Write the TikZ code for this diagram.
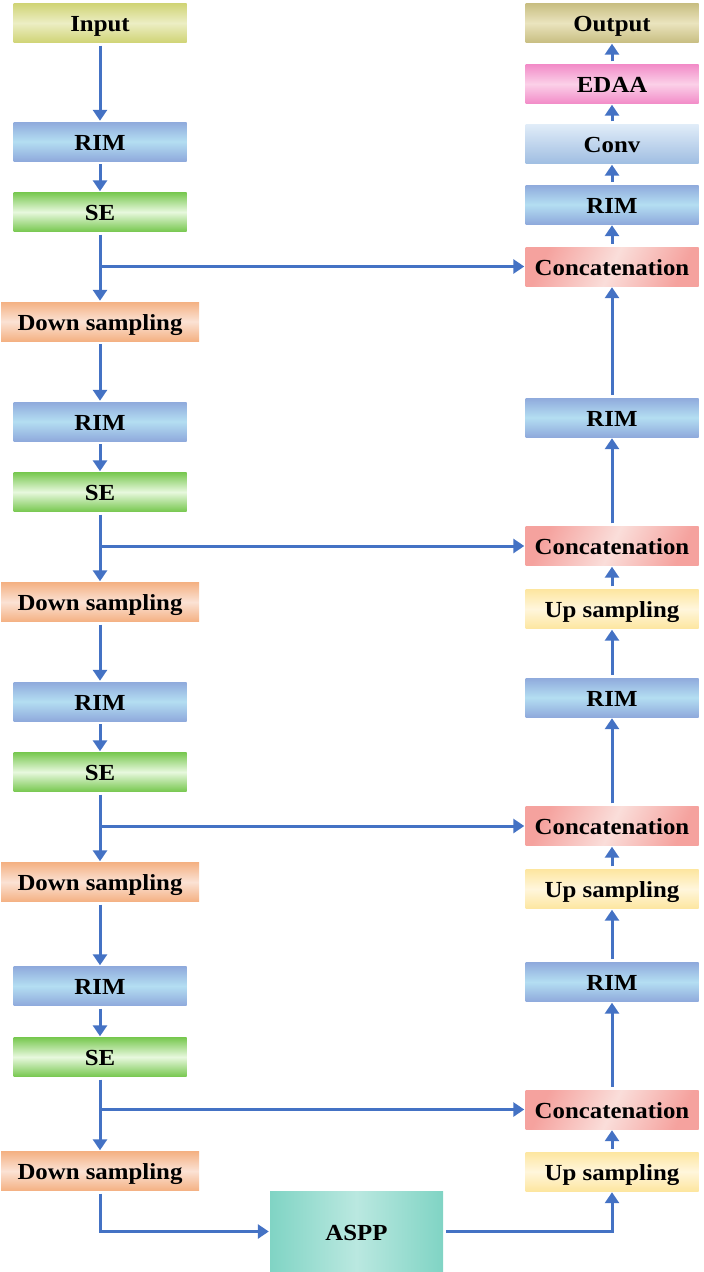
\documentclass[tikz,border=0pt]{standalone}
\usepackage{fontspec}
\setmainfont{Liberation Serif}[FakeStretch=1.08]
\usepackage{tikz}
\usetikzlibrary{arrows.meta}

\definecolor{linkblue}{RGB}{68,114,196}
\definecolor{inA}{RGB}{208,212,118}
\definecolor{inB}{RGB}{236,238,196}
\definecolor{rimA}{RGB}{143,170,220}
\definecolor{rimB}{RGB}{180,222,242}
\definecolor{seA}{RGB}{120,200,80}
\definecolor{seB}{RGB}{232,248,222}
\definecolor{dsA}{RGB}{244,177,131}
\definecolor{dsB}{RGB}{251,226,212}
\definecolor{outA}{RGB}{200,190,130}
\definecolor{outB}{RGB}{234,228,190}
\definecolor{edA}{RGB}{242,140,200}
\definecolor{edB}{RGB}{251,208,232}
\definecolor{cvA}{RGB}{224,236,248}
\definecolor{cvB}{RGB}{160,190,226}
\definecolor{catA}{RGB}{245,162,158}
\definecolor{catB}{RGB}{250,222,218}
\definecolor{upA}{RGB}{253,230,160}
\definecolor{upB}{RGB}{255,246,220}
\definecolor{asA}{RGB}{128,212,196}
\definecolor{asB}{RGB}{186,232,224}

\tikzset{
  block/.style={minimum width=173pt, minimum height=39pt, inner sep=0pt,
    text height=21pt, text depth=4pt,
    font=\fontsize{23}{27}\selectfont\bfseries},
  inbox/.style={block, top color=inA, bottom color=inA, middle color=inB},
  rimbox/.style={block, top color=rimA, bottom color=rimA, middle color=rimB},
  sebox/.style={block, top color=seA, bottom color=seA, middle color=seB},
  dsbox/.style={block, minimum width=198pt, top color=dsA, bottom color=dsA, middle color=dsB},
  outbox/.style={block, top color=outA, bottom color=outA, middle color=outB},
  edbox/.style={block, top color=edA, bottom color=edA, middle color=edB},
  cvbox/.style={block, top color=cvA, bottom color=cvB},
  catbox/.style={block, top color=catA, bottom color=catA, middle color=catB, shading angle=65},
  upbox/.style={block, top color=upA, bottom color=upA, middle color=upB},
  asppbox/.style={block, minimum height=81pt, left color=asA, right color=asA, middle color=asB},
  link/.style={draw=linkblue, line width=3pt, -{Triangle[width=14pt,length=11pt]},
    shorten <=3pt, shorten >=1pt}
}

\begin{document}
\begin{tikzpicture}[x=1pt,y=-1pt]
	\useasboundingbox (0,0) rectangle (704,1272);

	% encoder
	\node[inbox] (in) at (100,23) {Input};
	\node[rimbox] (rimA) at (100,141.5) {RIM};
	\node[sebox] (seA) at (100,212) {SE};
	\node[dsbox] (dsA) at (100,321.5) {Down sampling};
	\node[rimbox] (rimB) at (100,421.5) {RIM};
	\node[sebox] (seB) at (100,492) {SE};
	\node[dsbox] (dsB) at (100,602) {Down sampling};
	\node[rimbox] (rimC) at (100,701.5) {RIM};
	\node[sebox] (seC) at (100,772) {SE};
	\node[dsbox] (dsC) at (100,882) {Down sampling};
	\node[rimbox] (rimD) at (100,986) {RIM};
	\node[sebox] (seD) at (100,1057) {SE};
	\node[dsbox] (dsD) at (100,1171) {Down sampling};

	\node[asppbox] (aspp) at (356.5,1231.5) {ASPP};

	% decoder
	\node[outbox] (out) at (612,23) {Output};
	\node[edbox] (edaa) at (612,84) {EDAA};
	\node[cvbox] (conv) at (612,144) {Conv};
	\node[rimbox] (rimH) at (612,204.5) {RIM};
	\node[catbox] (catA) at (612,266.5) {Concatenation};
	\node[rimbox] (rimG) at (612,417.5) {RIM};
	\node[catbox] (catB) at (612,546) {Concatenation};
	\node[upbox] (upA) at (612,609) {Up sampling};
	\node[rimbox] (rimF) at (612,697.5) {RIM};
	\node[catbox] (catC) at (612,826) {Concatenation};
	\node[upbox] (upB) at (612,889) {Up sampling};
	\node[rimbox] (rimE) at (612,982) {RIM};
	\node[catbox] (catD) at (612,1109.5) {Concatenation};
	\node[upbox] (upC) at (612,1171.5) {Up sampling};

	% down path
	\draw[link] (in) -- (rimA);
	\draw[link] (rimA) -- (seA);
	\draw[link] (seA) -- (dsA);
	\draw[link] (dsA) -- (rimB);
	\draw[link] (rimB) -- (seB);
	\draw[link] (seB) -- (dsB);
	\draw[link] (dsB) -- (rimC);
	\draw[link] (rimC) -- (seC);
	\draw[link] (seC) -- (dsC);
	\draw[link] (dsC) -- (rimD);
	\draw[link] (rimD) -- (seD);
	\draw[link] (seD) -- (dsD);

	% skip links
	\draw[link, shorten <=0pt] (seA.south |- catA.west) -- (catA.west);
	\draw[link, shorten <=0pt] (seB.south |- catB.west) -- (catB.west);
	\draw[link, shorten <=0pt] (seC.south |- catC.west) -- (catC.west);
	\draw[link, shorten <=0pt] (seD.south |- catD.west) -- (catD.west);

	% bottom
	\draw[link] (dsD.south) |- (aspp.west);
	\draw[link] (aspp.east) -| (upC.south);

	% up path
	\draw[link] (upC) -- (catD);
	\draw[link] (catD) -- (rimE);
	\draw[link] (rimE) -- (upB);
	\draw[link] (upB) -- (catC);
	\draw[link] (catC) -- (rimF);
	\draw[link] (rimF) -- (upA);
	\draw[link] (upA) -- (catB);
	\draw[link] (catB) -- (rimG);
	\draw[link] (rimG) -- (catA);
	\draw[link] (catA) -- (rimH);
	\draw[link] (rimH) -- (conv);
	\draw[link] (conv) -- (edaa);
	\draw[link] (edaa) -- (out);
\end{tikzpicture}
\end{document}
